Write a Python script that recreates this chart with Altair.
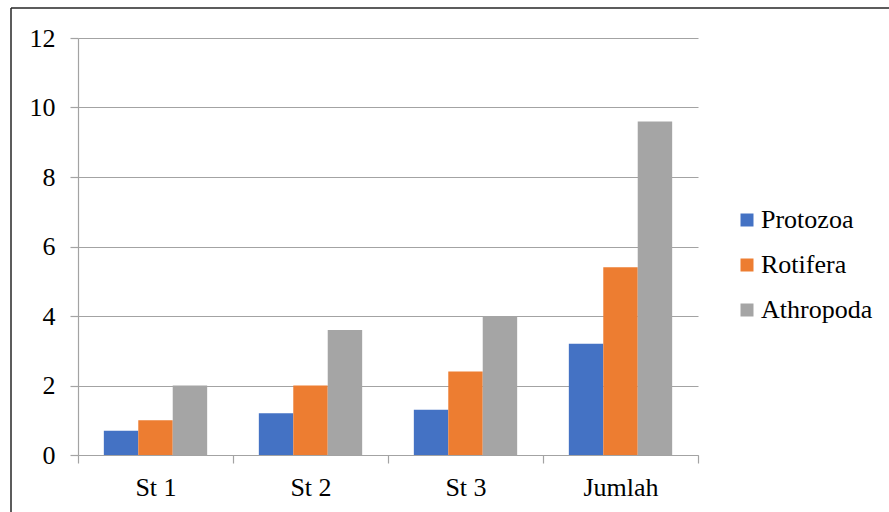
import altair as alt
import pandas as pd

categories = ["St 1", "St 2", "St 3", "Jumlah"]
series = ["Protozoa", "Rotifera", "Athropoda"]
protozoa = [0.7, 1.2, 1.3, 3.2]
rotifera = [1.0, 2.0, 2.4, 5.4]
athropoda = [2.0, 3.6, 4.0, 9.6]
colors = ["#4472C4", "#ED7D31", "#A5A5A5"]
y_ticks = [0, 2, 4, 6, 8, 10, 12]

rows = []
for name, vals in zip(series, [protozoa, rotifera, athropoda]):
    for c, v in zip(categories, vals):
        rows.append({"Stasiun": c, "Kelompok": name, "Nilai": v})
df = pd.DataFrame(rows)

font = "Liberation Serif"
grid_col = "#a3a3a3"

bars = alt.Chart(df).mark_bar().encode(
    x=alt.X(
        "Stasiun:N",
        sort=categories,
        scale=alt.Scale(paddingInner=0, paddingOuter=0),
        axis=alt.Axis(
            title=None, labelAngle=0, tickBand="extent", grid=False,
            domainColor=grid_col, tickColor=grid_col, tickSize=8,
            labelPadding=11,
        ),
    ),
    xOffset=alt.XOffset(
        "Kelompok:N", sort=series,
        scale=alt.Scale(paddingInner=0, paddingOuter=0.75),
    ),
    y=alt.Y(
        "Nilai:Q",
        scale=alt.Scale(domain=[0, 12], nice=False),
        axis=alt.Axis(
            title=None, values=y_ticks, grid=True, gridColor=grid_col,
            domainColor=grid_col, tickColor=grid_col, tickSize=8,
            labelPadding=15,
        ),
    ),
    color=alt.Color(
        "Kelompok:N", sort=series,
        scale=alt.Scale(domain=series, range=colors),
        legend=alt.Legend(
            title=None, orient="none", legendX=656, legendY=169,
            symbolType="square", symbolSize=169, symbolStrokeWidth=0,
            rowPadding=19, labelOffset=1,
        ),
    ),
)

frame_df = pd.DataFrame({"k": [0]})
top_line = alt.Chart(frame_df).mark_rule(color="#262626", strokeWidth=1.5).encode(
    x=alt.value(-67), x2=alt.value(811), y=alt.value(-30)
)
left_line = alt.Chart(frame_df).mark_rule(color="#262626", strokeWidth=1.5).encode(
    x=alt.value(-67), y=alt.value(-30), y2=alt.value(474)
)

chart = (
    alt.layer(bars, top_line, left_line)
    .properties(
        width=620,
        height=417,
        autosize=alt.AutoSizeParams(type="none"),
        padding={"left": 78, "top": 38, "right": 191, "bottom": 57},
    )
    .configure(background="white", font=font)
    .configure_view(stroke=None)
    .configure_axis(
        labelFont=font, labelFontSize=26, labelColor="#000000",
        domainWidth=1.2, tickWidth=1.2, gridWidth=1.2,
    )
    .configure_legend(
        labelFont=font, labelFontSize=26, labelColor="#000000", padding=0,
    )
)

chart.save("out.html", embed_options={"renderer": "svg", "actions": False})
